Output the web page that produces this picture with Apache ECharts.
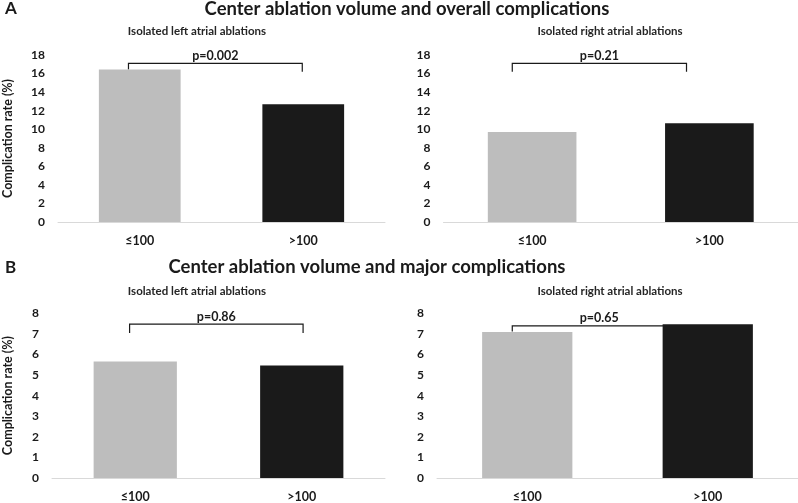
<!DOCTYPE html>
<html>
<head>
<meta charset="utf-8">
<script src="https://cdn.jsdelivr.net/npm/echarts@6/dist/echarts.min.js"></script>
<style>html,body{margin:0;padding:0;background:#fff}#c{width:798px;height:503px}</style>
</head>
<body>
<div id="c"></div>
<script>
// ---- data ----
const categories = ['≤100', '>100'];
const overallLeft = [16.45, 12.7];
const overallRight = [9.7, 10.64];
const majorLeft = [5.66, 5.47];
const majorRight = [7.09, 7.47];
const overallTicks = [0, 18, 2];   // min, max, interval
const majorTicks = [0, 8, 1];
const pLabels = ['p=0.002', 'p=0.21', 'p=0.86', 'p=0.65'];
const bracketLevels = [17.1, 17.1, 7.47, 7.39];
const bracketFeet = [[16.45, 16.2], [16.2, 16.2], [7.04, 7.04], [7.12, 7.12]];
const panelTitles = ['Center ablation volume and overall complications', 'Center ablation volume and major complications'];
const subTitles = ['Isolated left atrial ablations', 'Isolated right atrial ablations'];
const yName = 'Complication rate (%)';

// ---- style ----
const barColors = ['#bdbdbd', '#1a1a1a'];
const FONT = 'Lato, "Open Sans", sans-serif';
const txt = '#1a1a1a';
const bracketX = [[-0.069, -0.006], [-0.112, -0.129], [-0.034, 0.008], [-0.083, -0.12]];
const grids = [
  {left: 57, right: 413, top: 55, bottom: 281},
  {left: 443.5, right: 0, top: 55, bottom: 281},
  {left: 50, right: 413, top: 313.3, bottom: 22.3},
  {left: 437, right: 0, top: 313.3, bottom: 22.3}
];
const series = [overallLeft, overallRight, majorLeft, majorRight];
const ticks = [overallTicks, overallTicks, majorTicks, majorTicks];
const nameGaps = [44, null, 38, null];

const chart = echarts.init(document.getElementById('c'), null, {renderer: 'canvas'});

const xAxis = grids.map((g, i) => ({
  type: 'category', gridIndex: i, data: categories,
  axisTick: {show: false},
  axisLine: {lineStyle: {color: '#d9d9d9', width: 1}},
  axisLabel: {color: txt, fontFamily: FONT, fontWeight: 'bold', fontSize: 12.5, margin: 12}
}));
const yAxis = grids.map((g, i) => ({
  type: 'value', gridIndex: i, min: ticks[i][0], max: ticks[i][1], interval: ticks[i][2],
  splitLine: {show: false}, axisLine: {show: false}, axisTick: {show: false},
  axisLabel: {color: txt, fontFamily: FONT, fontWeight: 'bold', fontSize: 12, margin: 13},
  name: nameGaps[i] ? yName : '', nameLocation: 'middle', nameGap: nameGaps[i] || 0,
  nameTextStyle: {color: txt, fontFamily: FONT, fontWeight: 'bold', fontSize: 12.5}
}));

const allSeries = [];
series.forEach((vals, i) => {
  allSeries.push({
    type: 'bar', xAxisIndex: i, yAxisIndex: i, barWidth: '50%', z: 3,
    data: vals.map((v, k) => ({value: v, itemStyle: {color: barColors[k]}}))
  });
  allSeries.push({
    type: 'custom', xAxisIndex: i, yAxisIndex: i, z: 2,
    data: [[0, bracketLevels[i]]],
    encode: {x: 0, y: 1},
    renderItem: function (params, api) {
      const band = api.size([1, 0])[0];
      const lvl = bracketLevels[i];
      const top = api.coord([0, lvl]);
      const xl = api.coord([0, lvl])[0] + bracketX[i][0] * band;
      const xr = api.coord([1, lvl])[0] + bracketX[i][1] * band;
      const yl = api.coord([0, bracketFeet[i][0]])[1];
      const yr = api.coord([1, bracketFeet[i][1]])[1];
      return {
        type: 'group',
        children: [
          {type: 'polyline', shape: {points: [[xl, yl], [xl, top[1]], [xr, top[1]], [xr, yr]]},
           style: {stroke: '#1a1a1a', lineWidth: 1.2, fill: null}},
          {type: 'text', x: (xl + xr) / 2, y: top[1] - 1,
           style: {text: pLabels[i], fill: txt, font: 'bold 12.5px ' + FONT, align: 'center', verticalAlign: 'bottom'}}
        ]
      };
    }
  });
});

const tstyle = (size) => ({color: txt, fontFamily: FONT, fontWeight: 'bold', fontSize: size});
const sstyle = {color: '#262626', fontFamily: FONT, fontWeight: 'bold', fontSize: 11.5};

chart.setOption({
  animation: false,
  backgroundColor: '#fff',
  title: [
    {text: 'A', left: 5, top: 0, padding: 0, textStyle: tstyle(17)},
    {text: panelTitles[0], left: 407, top: 0, padding: 0, textAlign: 'center', textStyle: tstyle(18.5)},
    {text: subTitles[0], left: 197, top: 25, padding: 0, textAlign: 'center', textStyle: sstyle},
    {text: subTitles[1], left: 610, top: 25, padding: 0, textAlign: 'center', textStyle: sstyle},
    {text: 'B', left: 5, top: 259, padding: 0, textAlign: 'left', textStyle: tstyle(17)},
    {text: panelTitles[1], left: 367, top: 258, padding: 0, textAlign: 'center', textStyle: tstyle(18.5)},
    {text: subTitles[0], left: 197, top: 285, padding: 0, textAlign: 'center', textStyle: sstyle},
    {text: subTitles[1], left: 610, top: 285, padding: 0, textAlign: 'center', textStyle: sstyle}
  ],
  grid: grids,
  xAxis: xAxis,
  yAxis: yAxis,
  series: allSeries
});
</script>
</body>
</html>
